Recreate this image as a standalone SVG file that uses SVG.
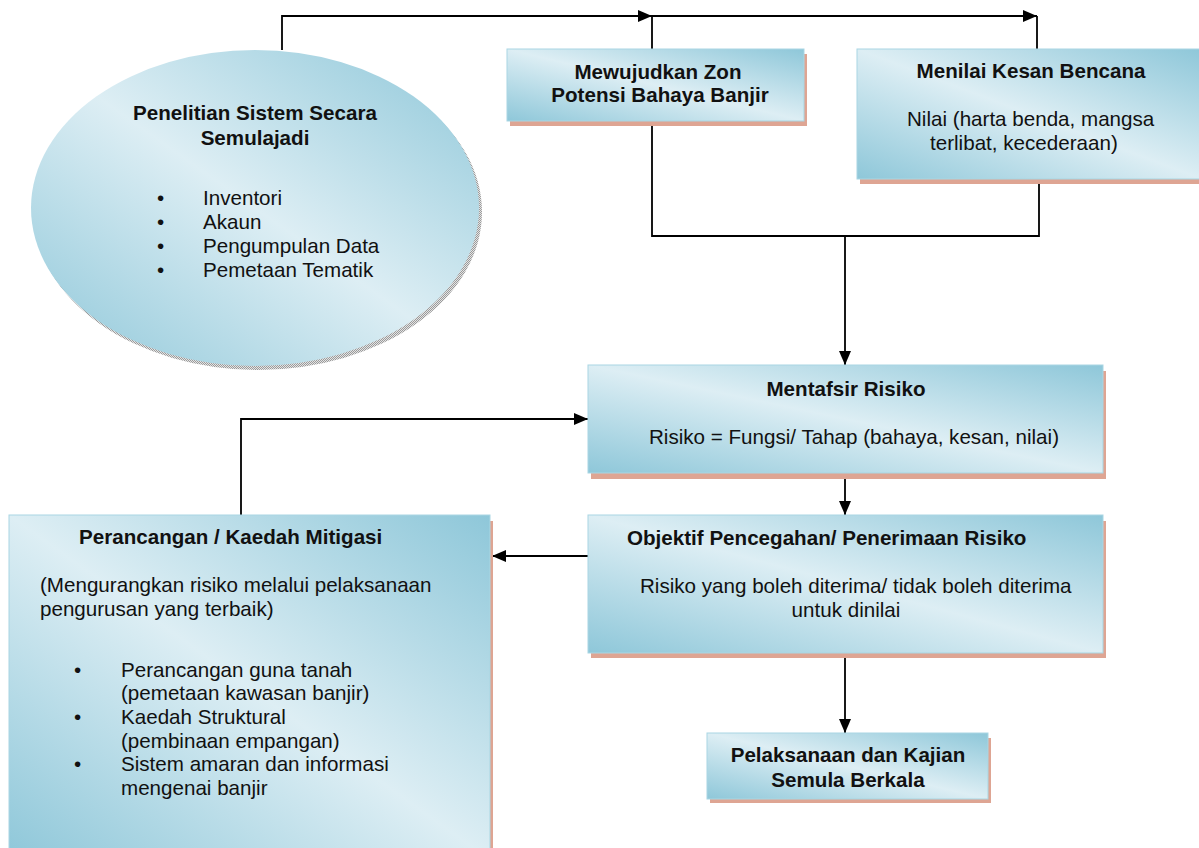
<svg xmlns="http://www.w3.org/2000/svg" width="1199" height="848" viewBox="0 0 1199 848">
<defs>
<linearGradient id="g" x1="0" y1="1" x2="1" y2="0">
<stop offset="0" stop-color="#8ec7d9"/>
<stop offset="0.5" stop-color="#ddeef4"/>
<stop offset="1" stop-color="#8ec7d9"/>
</linearGradient>
<pattern id="hatch" width="2" height="2" patternUnits="userSpaceOnUse">
<rect width="2" height="2" fill="#e4e4e4"/>
<rect width="1" height="1" fill="#9a9a9a"/>
<rect x="1" y="1" width="1" height="1" fill="#9a9a9a"/>
</pattern>
<marker id="arr" viewBox="0 0 14 12" refX="14" refY="6" markerWidth="14" markerHeight="12" markerUnits="userSpaceOnUse" orient="auto">
<path d="M0,0 L14,6 L0,12 Z" fill="#000"/>
</marker>
</defs>
<style>
.box{fill:url(#g);stroke:#a9d6e3;stroke-width:1}
.sh{fill:#dea593}
.t{font-family:"Liberation Sans",Arial,sans-serif;font-size:20.6px;fill:#111}
.b{font-weight:bold}
.c{text-anchor:middle}
.ln{fill:none;stroke:#000;stroke-width:1.8}
</style>
<g id="connectors">
<path class="ln" d="M282,50 V16 H652" marker-end="url(#arr)"/>
<path class="ln" d="M652,49 V16 H1037" marker-end="url(#arr)"/>
<path class="ln" d="M1037,49 V16"/>
<path class="ln" d="M652,125 V236 H1039 V183"/>
<path class="ln" d="M845,236 V365" marker-end="url(#arr)"/>
<path class="ln" d="M845,478 V515" marker-end="url(#arr)"/>
<path class="ln" d="M588,556 H492" marker-end="url(#arr)"/>
<path class="ln" d="M241,515 V419 H588" marker-end="url(#arr)"/>
<path class="ln" d="M845,657 V733" marker-end="url(#arr)"/>
</g>
<g id="node-penelitian">
<ellipse cx="258" cy="212" rx="224" ry="158" fill="url(#hatch)"/>
<ellipse cx="255" cy="208" rx="224" ry="158" fill="url(#g)"/>
<text class="t b c" x="255" y="120">Penelitian Sistem Secara</text>
<text class="t b c" x="255" y="145">Semulajadi</text>
<text class="t" x="157" y="205">•</text><text class="t" x="203" y="205">Inventori</text>
<text class="t" x="157" y="229">•</text><text class="t" x="203" y="229">Akaun</text>
<text class="t" x="157" y="253">•</text><text class="t" x="203" y="253">Pengumpulan Data</text>
<text class="t" x="157" y="277">•</text><text class="t" x="203" y="277">Pemetaan Tematik</text>
</g>
<g id="node-mewujudkan">
<rect class="sh" x="510" y="54" width="297" height="72"/>
<rect class="box" x="507" y="49" width="297" height="72"/>
<text class="t b c" x="658" y="79">Mewujudkan Zon</text>
<text class="t b c" x="660" y="102">Potensi Bahaya Banjir</text>
</g>
<g id="node-menilai">
<rect class="sh" x="860" y="55" width="345" height="129"/>
<rect class="box" x="857" y="49" width="345" height="130"/>
<text class="t b c" x="1031" y="78">Menilai Kesan Bencana</text>
<text class="t" x="907" y="126">Nilai (harta benda, mangsa</text>
<text class="t" x="930" y="150">terlibat, kecederaan)</text>
</g>
<g id="node-mentafsir">
<rect class="sh" x="591" y="371" width="515" height="108"/>
<rect class="box" x="588" y="365" width="515" height="108"/>
<text class="t b c" x="846" y="396">Mentafsir Risiko</text>
<text class="t" x="649" y="444">Risiko = Fungsi/ Tahap (bahaya, kesan, nilai)</text>
</g>
<g id="node-objektif">
<rect class="sh" x="591" y="521" width="515" height="137"/>
<rect class="box" x="588" y="515" width="515" height="138"/>
<text class="t b" x="627" y="545">Objektif Pencegahan/ Penerimaan Risiko</text>
<text class="t" x="640" y="593">Risiko yang boleh diterima/ tidak boleh diterima</text>
<text class="t c" x="846" y="617">untuk dinilai</text>
</g>
<g id="node-perancangan">
<rect class="sh" x="12" y="521" width="481" height="340"/>
<rect class="box" x="9" y="515" width="481" height="345"/>
<text class="t b" x="79" y="544">Perancangan / Kaedah Mitigasi</text>
<text class="t" x="40" y="592">(Mengurangkan risiko melalui pelaksanaan</text>
<text class="t" x="40" y="616">pengurusan yang terbaik)</text>
<text class="t" x="74" y="677">•</text><text class="t" x="121" y="677">Perancangan guna tanah</text>
<text class="t" x="121" y="700">(pemetaan kawasan banjir)</text>
<text class="t" x="74" y="724">•</text><text class="t" x="121" y="724">Kaedah Struktural</text>
<text class="t" x="121" y="748">(pembinaan empangan)</text>
<text class="t" x="74" y="771">•</text><text class="t" x="121" y="771">Sistem amaran dan informasi</text>
<text class="t" x="121" y="795">mengenai banjir</text>
</g>
<g id="node-pelaksanaan">
<rect class="sh" x="710" y="738" width="281" height="65"/>
<rect class="box" x="707" y="733" width="281" height="66"/>
<text class="t b c" x="848" y="762">Pelaksanaan dan Kajian</text>
<text class="t b c" x="848" y="787">Semula Berkala</text>
</g>
</svg>
